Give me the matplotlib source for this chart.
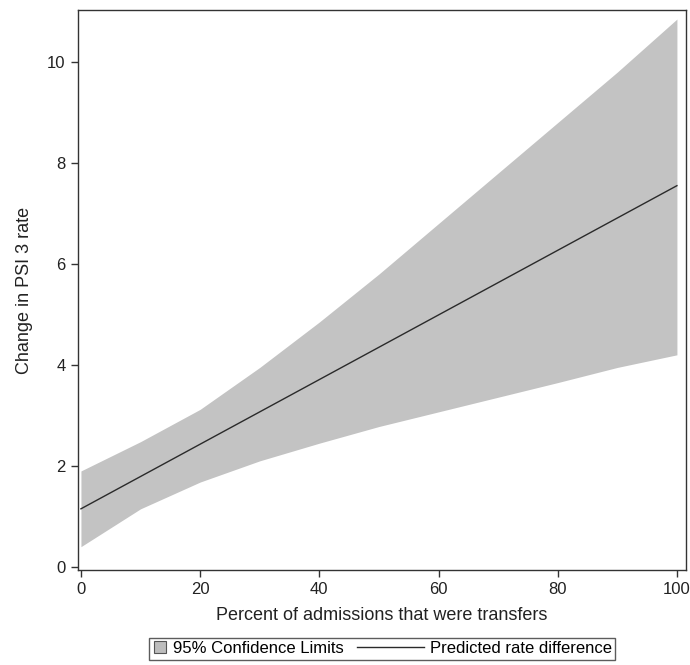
import matplotlib
matplotlib.use('Agg')
import matplotlib.pyplot as plt
from matplotlib.patches import Rectangle
from matplotlib.lines import Line2D
from matplotlib.legend_handler import HandlerPatch, HandlerBase
import numpy as np

# values
pct_transfer = [0, 10, 20, 30, 40, 50, 60, 70, 80, 90, 100]
ci_upper = [1.9, 2.48, 3.12, 3.95, 4.85, 5.8, 6.8, 7.8, 8.8, 9.8, 10.85]
ci_lower = [0.4, 1.15, 1.68, 2.1, 2.45, 2.78, 3.07, 3.36, 3.65, 3.95, 4.2]
pred_diff = [1.15, 1.79, 2.43, 3.07, 3.71, 4.35, 4.99, 5.63, 6.27, 6.91, 7.55]

x_ticks = [0, 20, 40, 60, 80, 100]
y_ticks = [0, 2, 4, 6, 8, 10]


def square_patch(legend, orig_handle, xdescent, ydescent, width, height, fontsize):
    s = 0.72 * fontsize
    return Rectangle((-xdescent + (width - s) / 2, -ydescent + (height - s) / 2), s, s)


class LongLine(HandlerBase):
    # line key that reaches back to the left of its handle box
    def create_artists(self, legend, orig_handle, xdescent, ydescent, width, height,
                       fontsize, trans):
        y = -ydescent + height / 2
        ln = Line2D([-xdescent + width - 4.0 * fontsize, -xdescent + width], [y, y],
                    color=orig_handle.get_color(), linewidth=orig_handle.get_linewidth(),
                    transform=trans)
        return [ln]


plt.rcParams['font.family'] = ['Liberation Sans', 'DejaVu Sans']

fig = plt.figure(figsize=(6.9, 6.65), dpi=100)
ax = fig.add_axes([0.113, 0.143, 0.881, 0.842])

band = ax.fill_between(pct_transfer, ci_lower, ci_upper, color='#c3c3c3',
                       linewidth=0, label='95% Confidence Limits')
line, = ax.plot(pct_transfer, pred_diff, color='#2a2a2a', linewidth=1.0,
                label='Predicted rate difference')

ax.set_xlim(-0.5, 101.5)
ax.set_ylim(-0.06, 11.03)
ax.set_xticks(x_ticks)
ax.set_yticks(y_ticks)
ax.tick_params(direction='out', length=5, width=1, color='#333333',
               labelsize=12, labelcolor='#222222', pad=4)
for s in ax.spines.values():
    s.set_color('#333333')
    s.set_linewidth(1.0)

ax.set_xlabel('Percent of admissions that were transfers', fontsize=13,
              color='#222222', labelpad=7)
ax.set_ylabel('Change in PSI 3 rate', fontsize=13, color='#222222', labelpad=10)

h_box = Rectangle((0, 0), 1, 1, facecolor='#bdbdbd', edgecolor='#555555', linewidth=0.8)
leg = fig.legend([h_box, line], ['95% Confidence Limits', 'Predicted rate difference'],
                 ncol=2, loc='center', bbox_to_anchor=(0.554, 0.0245), fontsize=12,
                 frameon=True, fancybox=False, edgecolor='#333333', handlelength=0.9,
                 handleheight=0.75, columnspacing=3.9, handletextpad=0.35,
                 borderpad=0.2, borderaxespad=0,
                 handler_map={Rectangle: HandlerPatch(patch_func=square_patch),
                              Line2D: LongLine()})
leg.get_frame().set_linewidth(1.0)

fig.savefig('out.png', dpi=100, facecolor='white')
